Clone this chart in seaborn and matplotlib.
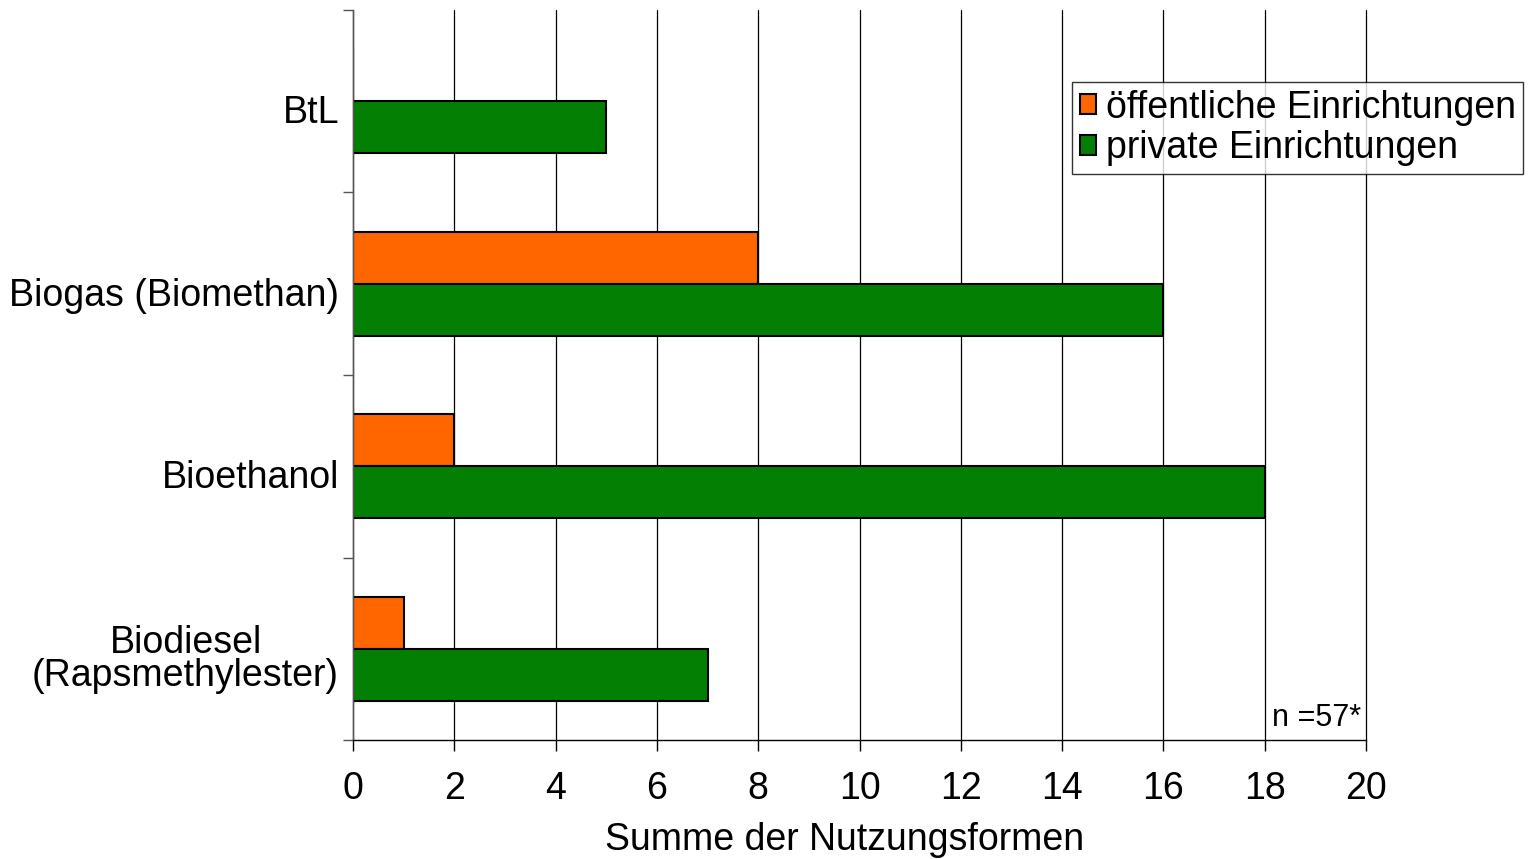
import pandas as pd
import seaborn as sns
import matplotlib.pyplot as plt
import matplotlib.transforms as mtransforms

# data
categories = ["BtL", "Biogas (Biomethan)", "Bioethanol", "Biodiesel\n(Rapsmethylester)"]
oeffentlich = [0, 8, 2, 1]
privat = [5, 16, 18, 7]
series = ["öffentliche Einrichtungen", "private Einrichtungen"]
x_ticks = [0, 2, 4, 6, 8, 10, 12, 14, 16, 18, 20]

df = pd.DataFrame({
    "Kategorie": categories * 2,
    "Wert": oeffentlich + privat,
    "Gruppe": [series[0]] * len(categories) + [series[1]] * len(categories),
})

sns.set_theme(style="white")
plt.rcParams["font.family"] = ["Liberation Sans", "DejaVu Sans"]
plt.rcParams["text.color"] = "black"
plt.rcParams["xtick.color"] = "black"
plt.rcParams["ytick.color"] = "black"
plt.rcParams["axes.labelcolor"] = "black"

fs = 27

fig = plt.figure(figsize=(15.3, 8.59), dpi=100)
ax = fig.add_axes([353 / 1530, 1 - 740 / 859, (1366 - 353) / 1530, (740 - 10) / 859])

sns.barplot(data=df, x="Wert", y="Kategorie", hue="Gruppe", orient="h",
            palette=["#ff6600", "#037f03"], saturation=1, width=0.57,
            edgecolor="black", linewidth=1.5, ax=ax, legend=True)

ax.set_xlim(0, 20)
ax.set_ylim(3.5, -0.5)
ax.set_xticks(x_ticks)
ax.set_xticklabels([str(t) for t in x_ticks], fontsize=fs)
ax.tick_params(axis="x", direction="out", length=8, width=1, color="black", pad=14,
               bottom=True)
ax.xaxis.grid(True, color="black", linewidth=0.9)
for gl in ax.get_xgridlines():
    gl.set_clip_on(False)
ax.set_axisbelow(True)

# labels at centres, tick marks at band borders
ax.set_yticks(range(len(categories)))
ax.set_yticklabels(categories, fontsize=fs, multialignment="center", linespacing=0.9)
ax.tick_params(axis="y", length=0, pad=10)
ax.set_yticks([i - 0.5 for i in range(len(categories) + 1)], minor=True)
ax.tick_params(axis="y", which="minor", direction="out", length=7, width=1,
               color="#555555", left=True)
shift = mtransforms.ScaledTranslation(0, -8 / 100, fig.dpi_scale_trans)
for lab in ax.get_yticklabels():
    lab.set_transform(lab.get_transform() + shift)

ax.set_xlabel("Summe der Nutzungsformen", fontsize=fs)
ax.xaxis.set_label_coords((845 - 353) / 1013, (740 - 822) / 730)
ax.set_ylabel("")

for s in ["top", "right"]:
    ax.spines[s].set_visible(False)
ax.spines["left"].set_color("#555555")
ax.spines["left"].set_linewidth(1)
ax.spines["bottom"].set_color("black")
ax.spines["bottom"].set_linewidth(1)

ax.text(19.9, 3.38, "n =57*", ha="right", va="center", fontsize=22)

leg = ax.legend(loc="upper left", bbox_to_anchor=(1072 / 1530, 1 - 82 / 859),
                bbox_transform=fig.transFigure, fontsize=fs, frameon=True,
                fancybox=False, edgecolor="black", handlelength=0.45,
                handleheight=0.45, handletextpad=0.25, borderpad=0.2,
                labelspacing=0.12, borderaxespad=0)
leg.get_frame().set_linewidth(1)

fig.savefig("out.png", dpi=100)
